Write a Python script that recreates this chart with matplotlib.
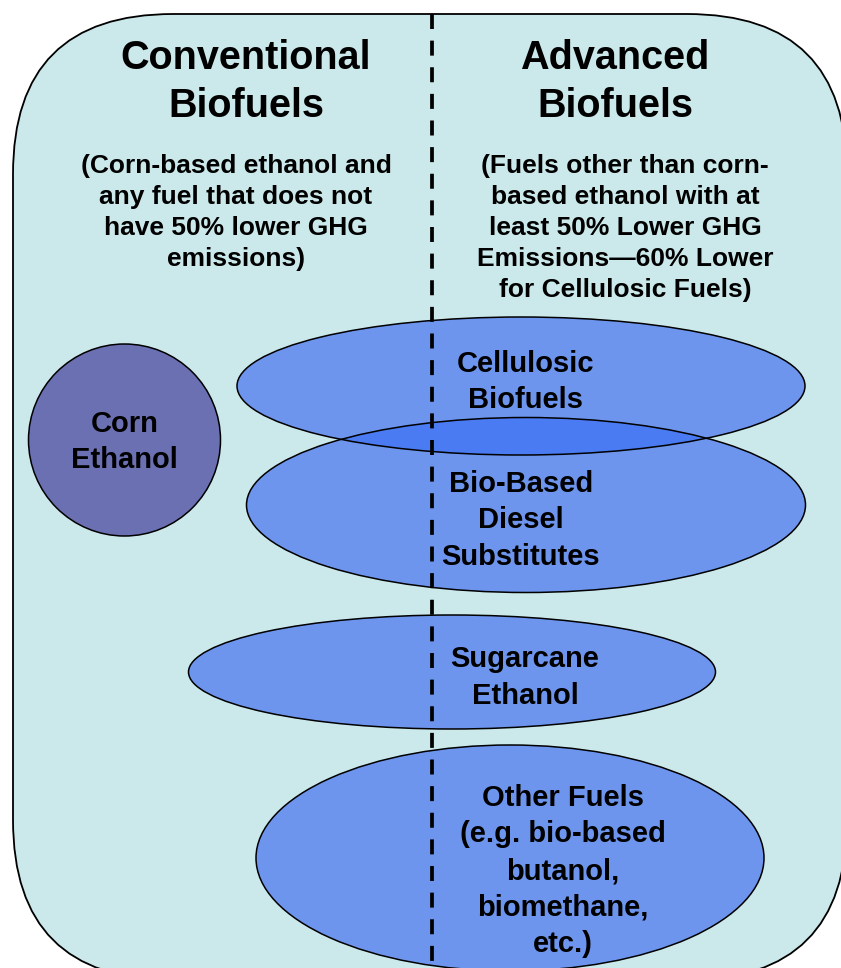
import matplotlib.pyplot as plt
from matplotlib.patches import Ellipse, FancyBboxPatch
import numpy as np

plt.rcParams['font.family'] = ['Liberation Sans', 'DejaVu Sans']

# headings and notes for the two columns
col_titles = ["Conventional\nBiofuels", "Advanced\nBiofuels"]
col_notes = [
    "(Corn-based ethanol and\nany fuel that does not\nhave 50% lower GHG\nemissions)",
    "(Fuels other than corn-\nbased ethanol with at\nleast 50% Lower GHG\nEmissions\u201460% Lower\nfor Cellulosic Fuels)",
]

# fuel groups drawn as ellipses: label, centre x, centre y, width, height
fuel_labels = ["Cellulosic\nBiofuels", "Bio-Based\nDiesel\nSubstitutes",
               "Sugarcane\nEthanol",
               "Other Fuels\n(e.g. bio-based\nbutanol,\nbiomethane,\netc.)"]
fuel_cx = [521, 526, 452, 510]
fuel_cy = [386, 505, 672, 858]
fuel_w = [568, 559, 527, 508]
fuel_h = [138, 175, 114, 226]
# text position inside each ellipse: centre x, first baseline
fuel_tx = [526, 521, 525, 563]
fuel_ty = [372, 492, 667, 806]

corn_label = "Corn\nEthanol"
corn_c = (124.5, 440)
corn_r = 96

W, H = 841, 968
bg = '#CBE8EA'
blue = '#6E95EE'
blue_dark = '#4A7BF2'
corn_col = '#6B70B3'


def put_lines(ax, x, y0, text, size, step):
    for i, line in enumerate(text.split("\n")):
        ax.text(x, y0 + i * step, line, ha='center', va='baseline',
                fontsize=size, fontweight='bold', color='black', zorder=10)


fig = plt.figure(figsize=(W / 100, H / 100), dpi=100)
ax = fig.add_axes([0, 0, 1, 1])
ax.set_xlim(0, W)
ax.set_ylim(H, 0)
ax.axis('off')

box = FancyBboxPatch((13, 14), 834, 966, boxstyle="round,pad=0,rounding_size=160",
                     facecolor=bg, edgecolor='black', linewidth=1.3, zorder=1)
ax.add_patch(box)

# corn ethanol circle
ax.add_patch(Ellipse(corn_c, 2 * corn_r, 2 * corn_r, facecolor=corn_col,
                     edgecolor='black', linewidth=1.1, zorder=3))

ells = []
for i in range(len(fuel_labels)):
    e = Ellipse((fuel_cx[i], fuel_cy[i]), fuel_w[i], fuel_h[i], facecolor=blue,
                edgecolor='none', zorder=3)
    ax.add_patch(e)
    ells.append(e)

# overlap of the first two ellipses
ov = Ellipse((fuel_cx[1], fuel_cy[1]), fuel_w[1], fuel_h[1], facecolor=blue_dark,
             edgecolor='none', zorder=4)
ax.add_patch(ov)
ov.set_clip_path(ells[0])

for i in range(len(fuel_labels)):
    ax.add_patch(Ellipse((fuel_cx[i], fuel_cy[i]), fuel_w[i], fuel_h[i],
                         facecolor='none', edgecolor='black', linewidth=1.1, zorder=5))

# dashed divider
ax.plot([432, 432], [14, H], color='black', linewidth=2.7,
        linestyle=(0, (4.0, 3.1)), solid_capstyle='butt', dash_capstyle='butt', zorder=6)

# column headings
put_lines(ax, 246, 69, col_titles[0], 28.5, 48)
put_lines(ax, 615, 69, col_titles[1], 28.5, 48)
put_lines(ax, 236, 173, col_notes[0], 19, 31)
put_lines(ax, 625, 173, col_notes[1], 19, 31)

put_lines(ax, corn_c[0], 432, corn_label, 21, 36)
for i in range(len(fuel_labels)):
    put_lines(ax, fuel_tx[i], fuel_ty[i], fuel_labels[i], 21, 36.5)

fig.savefig("out.png", dpi=100, facecolor='white')
